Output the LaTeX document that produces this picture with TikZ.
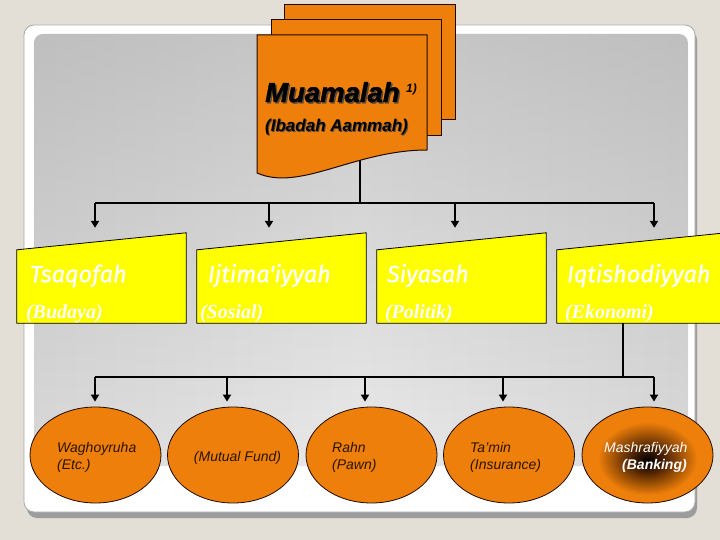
\documentclass[tikz,border=0pt]{standalone}
\usepackage{fontspec}
\setmainfont{Liberation Sans}
\newfontface\muafont[FakeBold=1.5]{Liberation Sans Bold Italic}
\newfontface\titfont[FakeBold=1.2]{Fira Sans Italic}
\newfontfamily\serfont{Liberation Serif}
\usetikzlibrary{shapes.geometric,arrows.meta,calc,fadings}
\definecolor{bg}{HTML}{E3DFD6}
\definecolor{org}{HTML}{EE7F0A}
\definecolor{ylw}{HTML}{FFFF00}
\definecolor{dk}{HTML}{1E0A00}
\definecolor{etxt}{HTML}{2A1400}
\definecolor{frsh}{HTML}{9C9C9C}
\definecolor{frbd}{HTML}{A8A8A8}
\definecolor{pedge}{HTML}{A8A8A8}
\definecolor{pq}{HTML}{D6D6D6}
\definecolor{pmid}{HTML}{EAEAEA}
\definecolor{ptop}{HTML}{9A9A9A}
\definecolor{shd}{HTML}{5A4A3A}
\definecolor{glowmid}{HTML}{3A1800}
\pgfdeclarehorizontalshading{panelh}{100bp}{color(0bp)=(pedge); color(20bp)=(pq); color(50bp)=(pmid); color(80bp)=(pq); color(100bp)=(pedge)}
\pgfdeclareradialshading{glow}{\pgfpoint{0bp}{-3bp}}{color(0bp)=(black); color(5bp)=(glowmid); color(19bp)=(org); color(50bp)=(org)}
\begin{document}
\begin{tikzpicture}[x=1pt,y=-1pt,
 conn/.style={line width=1.3pt, black},
 arr/.style={line width=1.8pt, black, -{Triangle[length=7pt,width=8pt]}},
 sheet/.style={fill=org, draw=dk, line width=1pt},
 boxn/.style={minimum width=169pt, minimum height=90pt, inner sep=0pt},
 ybox/.style={fill=ylw, draw=black, line width=0.8pt},
 ttl/.style={font=\titfont\fontsize{23.5}{23.5}\selectfont, text=white, anchor=base west, inner sep=0pt},
 subt/.style={font=\serfont\bfseries\itshape\fontsize{20}{20}\selectfont, text=white, anchor=base west, inner sep=0pt},
 ell/.style={ellipse, minimum width=131pt, minimum height=96pt, inner sep=0pt, fill=org, draw=dk, line width=0.8pt},
 etext/.style={font=\itshape\fontsize{14}{17}\selectfont, text=etxt, anchor=base west, inner sep=0pt}
]
\useasboundingbox (0,0) rectangle (720,540);
\fill[bg] (0,0) rectangle (720,540);
% frame
\fill[rounded corners=10pt, frsh] (27,30) rectangle (697,518);
\filldraw[rounded corners=10pt, fill=white, draw=frbd, line width=0.8pt] (24,25) rectangle (695,512);
% panel
\shade[rounded corners=9pt, shading=panelh] (34,34) rectangle (688,466);
\fill[rounded corners=9pt, ptop, fill opacity=0.42, path fading=south] (34,34) rectangle (688,466);

% back sheets
\filldraw[sheet] (284,5) rectangle (455,120);
\filldraw[sheet] (271,20) rectangle (441,136);

% box nodes (geometry holders)
\node[boxn] (tsq) at (101.5,278) {};
\node[boxn] (ijt) at (281.5,278) {};
\node[boxn] (siy) at (461.5,278) {};
\node[boxn] (iqt) at (641.5,278) {};

% ellipses
\node[ell] (e1) at (95.5,455) {};
\node[ell] (e2) at (233,455) {};
\node[ell] (e3) at (371.5,455) {};
\node[ell] (e4) at (509,455) {};
\node[ell, shading=glow] (e5) at (647.5,455) {};

% connectors level 1
\coordinate (docbot) at (360,150);
\coordinate (hub1) at (360,203);
\coordinate (b1L) at (95,203);
\coordinate (b1B) at (269,203);
\coordinate (b1C) at (455,203);
\coordinate (b1R) at (654,203);
\draw[conn] (docbot) -- (hub1);
\draw[conn] (b1L) -- (b1R);
\draw[arr] (b1L) -- ($(b1L |- tsq.north)+(0,-5)$);
\draw[arr] (b1B) -- ($(b1B |- ijt.north)+(0,-5)$);
\draw[arr] (b1C) -- ($(b1C |- siy.north)+(0,-5)$);
\draw[arr] (b1R) -- ($(b1R |- iqt.north)+(0,-5)$);

% connectors level 2
\coordinate (stem) at (623,377);
\coordinate (b2L) at (95,377);
\coordinate (b2B) at (227,377);
\coordinate (b2C) at (365,377);
\coordinate (b2D) at (503,377);
\coordinate (b2R) at (654,377);
\draw[conn] (stem |- iqt.south) -- (stem);
\draw[conn] (b2L) -- (b2R);
\draw[arr] (b2L) -- ($(b2L |- e1.north)+(0,-5)$);
\draw[arr] (b2B) -- ($(b2B |- e2.north)+(0,-5)$);
\draw[arr] (b2C) -- ($(b2C |- e3.north)+(0,-5)$);
\draw[arr] (b2D) -- ($(b2D |- e4.north)+(0,-5)$);
\draw[arr] (b2R) -- ($(b2R |- e5.north)+(0,-5)$);

% front document
\filldraw[sheet] (257,35) -- (427,35) -- (427,150)
  .. controls (355,150) and (300,192) .. (257,173) -- cycle;

% document text
\node[font=\muafont\fontsize{27.5}{27.5}\selectfont, text=shd, anchor=base west, inner sep=0pt] at (266.5,103.5) {Muamalah};
\node[font=\muafont\fontsize{27.5}{27.5}\selectfont, anchor=base west, inner sep=0pt] (mt) at (265,102) {Muamalah};
\node[font=\bfseries\itshape\fontsize{12}{12}\selectfont, anchor=base west, inner sep=0pt] (sup) at (406,93) {1)};
\node[font=\bfseries\itshape\fontsize{17}{17}\selectfont, text=shd, anchor=base west, inner sep=0pt] at (266,133) {(Ibadah Aammah)};
\node[font=\bfseries\itshape\fontsize{17}{17}\selectfont, anchor=base west, inner sep=0pt] (it) at (265,132) {(Ibadah Aammah)};

% yellow boxes
\foreach \b in {tsq,ijt,siy,iqt}{
  \filldraw[ybox] (\b.south west) -- (\b.south east) -- (\b.north east) -- ($(\b.north west)+(0,17)$) -- cycle;
}
\node[ttl] (t1) at ($(tsq.south west)+(13,-41)$) {Tsaqofah};
\node[subt] (s1) at ($(tsq.south west)+(9,-5)$) {(Budaya)};
\node[ttl] (t2) at ($(ijt.south west)+(11,-41)$) {Ijtima'iyyah};
\node[subt] (s2) at ($(ijt.south west)+(3,-5)$) {(Sosial)};
\node[ttl] (t3) at ($(siy.south west)+(10,-41)$) {Siyasah};
\node[subt] (s3) at ($(siy.south west)+(8,-5)$) {(Politik)};
\node[ttl] (t4) at ($(iqt.south west)+(10,-41)$) {Iqtishodiyyah};
\node[subt] (s4) at ($(iqt.south west)+(8,-5)$) {(Ekonomi)};

% ellipse texts
\node[etext] (w1) at (57,452) {Waghoyruha};
\node[etext] (w2) at (57,469) {(Etc.)};
\node[etext, anchor=base] (m1) at (237.5,461) {(Mutual Fund)};
\node[etext] (r1) at (332,452) {Rahn};
\node[etext] (r2) at (332,469) {(Pawn)};
\node[etext] (i1) at (470,452) {Ta'min};
\node[etext] (i2) at (470,469) {(Insurance)};
\node[etext, text=white] (k1) at (604,452) {Mashrafiyyah};
\node[etext, font=\bfseries\itshape\fontsize{14}{17}\selectfont, text=white] (k2) at (622,469) {(Banking)};
\end{tikzpicture}
\end{document}
